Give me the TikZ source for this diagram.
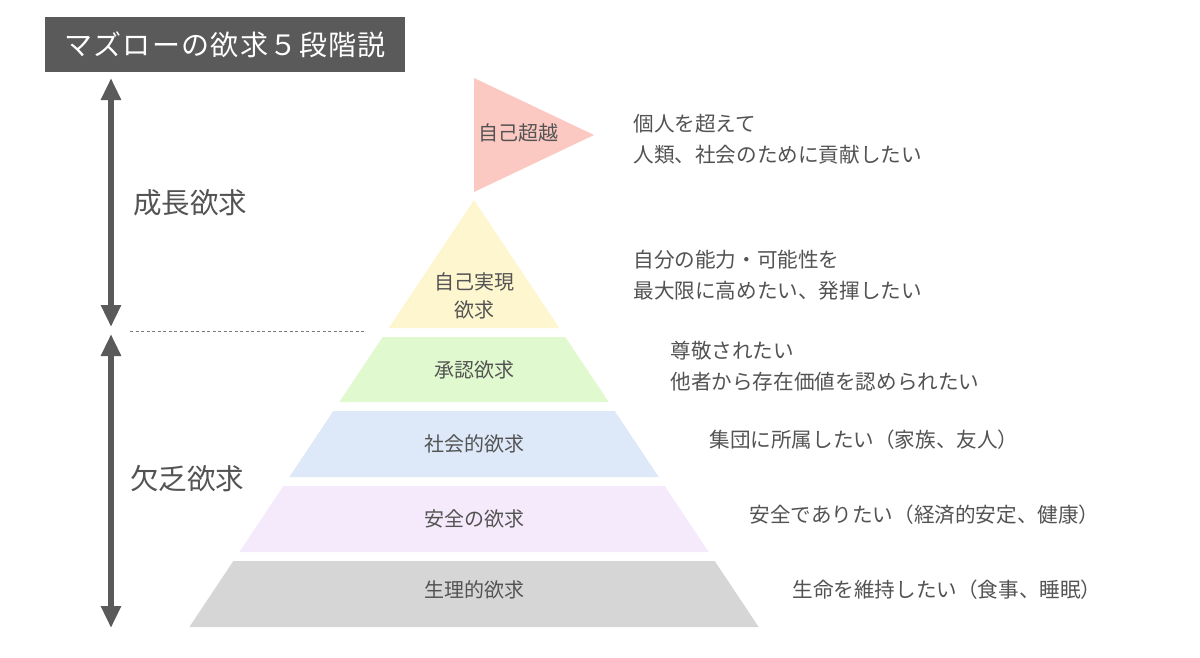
\documentclass[tikz,border=0pt]{standalone}
\usepackage{fontspec}
\setmainfont{Noto Sans CJK JP}
\usetikzlibrary{arrows.meta}
\definecolor{dark}{HTML}{5A5A5A}
\definecolor{txt}{HTML}{535353}
\definecolor{cpink}{HTML}{FCC9C2}
\definecolor{cyellow}{HTML}{FDF6CF}
\definecolor{cgreen}{HTML}{E1F9CF}
\definecolor{cblue}{HTML}{DDE9F9}
\definecolor{cpurple}{HTML}{F5EAFB}
\definecolor{cgray}{HTML}{D6D6D6}
\begin{document}
\begin{tikzpicture}[x=1pt,y=-1pt,
  lvl/.style={text=txt,font=\fontsize{20}{28}\selectfont,align=center},
  desc/.style={text=txt,font=\fontsize{20.6}{31}\selectfont,anchor=west,align=left},
  side/.style={text=txt,font=\fontsize{28.5}{30}\selectfont},
  bigarrow/.style={draw=dark,line width=6pt,{Triangle[width=19pt,length=22pt]}-{Triangle[width=19pt,length=22pt]}},
  sep/.style={draw=dark!80,line width=1.5pt,dash pattern=on 3pt off 2.5pt}]
\useasboundingbox[fill=white] (0,0) rectangle (1200,657);
% title
\node[fill=dark,minimum width=360pt,minimum height=55pt,inner sep=0pt,text=white,
  font=\fontsize{28}{30}\selectfont\addfontfeature{LetterSpace=5}] (title) at (225,44.5) {マズローの欲求５段階説};
% arrows
\coordinate (a1t) at (111,78);
\coordinate (a1b) at (111,327);
\coordinate (a2t) at (111,334);
\coordinate (a2b) at (111,628);
\draw[bigarrow] (a1t) -- (a1b);
\draw[bigarrow] (a2t) -- (a2b);
\coordinate (d1) at (130,331.5);
\coordinate (d2) at (365,331.5);
\draw[sep] (d1) -- (d2);
\node[side] (grow) at (190,203) {成長欲求};
\node[side] (lack) at (187,479) {欠乏欲求};
% flag
\fill[cpink] (474,78) -- (594,135) -- (474,192) -- cycle;
\node[lvl] (l6) at (518,133) {自己超越};
% pyramid
\fill[cyellow] (474,200) -- (559.33,328) -- (388.67,328) -- cycle;
\fill[cgreen] (382.67,337) -- (565.33,337) -- (608.67,402) -- (339.33,402) -- cycle;
\fill[cblue] (333.33,411) -- (614.67,411) -- (658.67,477) -- (289.33,477) -- cycle;
\fill[cpurple] (283.33,486) -- (664.67,486) -- (708.67,552) -- (239.33,552) -- cycle;
\fill[cgray] (233.33,561) -- (714.67,561) -- (758.67,627) -- (189.33,627) -- cycle;
\node[lvl] (l5) at (474,296) {自己実現\\欲求};
\node[lvl] (l4) at (474,370) {承認欲求};
\node[lvl] (l3) at (474,444) {社会的欲求};
\node[lvl] (l2) at (474,519) {安全の欲求};
\node[lvl] (l1) at (474,590) {生理的欲求};
% descriptions
\node[desc] (t6) at (630,139) {個人を超えて\\人類、社会のために貢献したい};
\node[desc] (t5) at (630,275) {自分の能力・可能性を\\最大限に高めたい、発揮したい};
\node[desc] (t4) at (667,366) {尊敬されたい\\他者から存在価値を認められたい};
\node[desc] (t3) at (706,440) {集団に所属したい（家族、友人）};
\node[desc] (t2) at (746,515) {安全でありたい（経済的安定、健康）};
\node[desc] (t1) at (789,590) {生命を維持したい（食事、睡眠）};
\end{tikzpicture}
\end{document}
